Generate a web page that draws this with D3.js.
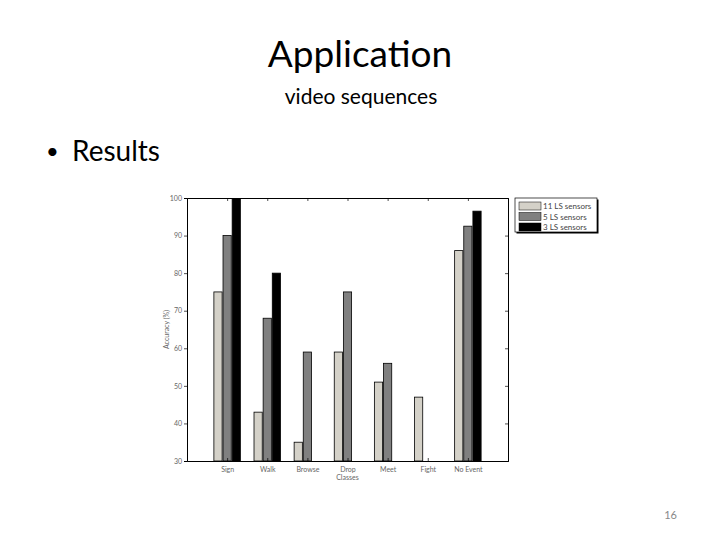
<!DOCTYPE html>
<html>
<head>
<meta charset="utf-8">
<script src="https://cdn.jsdelivr.net/npm/d3@7"></script>
<style>
  body { margin: 0; background: #fff; }
  text { font-family: Lato, "Open Sans", sans-serif; }
</style>
</head>
<body>
<svg></svg>
<script>
// chart values
const categories = ["Sign", "Walk", "Browse", "Drop", "Meet", "Fight", "No Event"];
const seriesNames = ["11 LS sensors", "5 LS sensors", "3 LS sensors"];
const s11 = [75, 43, 35, 59, 51, 47, 86];
const s5 = [90, 68, 59, 75, 56, 0, 92.5];
const s3 = [100, 80, 0, 0, 0, 0, 96.5];
const yTicks = [30, 40, 50, 60, 70, 80, 90, 100];
const colors = ["#d4d1c8", "#808080", "#000000"];

const svg = d3.select("svg").attr("width", 720).attr("height", 540);

// slide text
svg.append("text").attr("x", 360).attr("y", 67).attr("text-anchor", "middle")
  .attr("font-size", 37).attr("fill", "#000").text("Application");
svg.append("text").attr("x", 361).attr("y", 104).attr("text-anchor", "middle")
  .attr("font-size", 21).attr("fill", "#000").text("video sequences");
svg.append("text").attr("x", 46).attr("y", 159)
  .attr("font-size", 22).attr("fill", "#000").text("\u2022");
svg.append("text").attr("x", 72).attr("y", 161)
  .attr("font-size", 28).attr("fill", "#000").text("Results");
svg.append("text").attr("x", 677).attr("y", 519).attr("text-anchor", "end")
  .attr("font-size", 11).attr("fill", "#888").text("16");

// plot area
const pLeft = 187, pRight = 508, pTop = 198, pBottom = 461;

const x = d3.scaleLinear().domain([0, 8]).range([pLeft, pRight]);
const y = d3.scaleLinear().domain([30, 100]).range([pBottom, pTop]);
const xSub = d3.scaleBand().domain([0, 1, 2]).range([-0.33, 0.33]).paddingInner(0.1);

svg.append("defs").append("clipPath").attr("id", "plotclip")
  .append("rect").attr("x", pLeft).attr("y", pTop)
  .attr("width", pRight - pLeft).attr("height", pBottom - pTop);

const series = [s11, s5, s3];
const bars = [];
series.forEach((vals, si) => {
  vals.forEach((v, ci) => {
    if (v > 30) bars.push({ si, ci, v });
  });
});

svg.append("g").attr("clip-path", "url(#plotclip)")
  .selectAll("rect").data(bars).enter().append("rect")
  .attr("x", d => x(d.ci + 1 + xSub(d.si)))
  .attr("width", d => x(xSub.bandwidth()) - x(0))
  .attr("y", d => y(d.v))
  .attr("height", d => y(30) - y(d.v))
  .attr("fill", d => colors[d.si])
  .attr("stroke", "#000")
  .attr("stroke-width", 0.8);

// axes
const tickFont = g => g.selectAll("text").attr("font-size", 7).attr("fill", "#666");

const yAxis = svg.append("g").attr("transform", `translate(${pLeft},0)`)
  .call(d3.axisLeft(y).tickValues(yTicks).tickSize(3).tickPadding(2));
yAxis.call(tickFont);

const yAxisR = svg.append("g").attr("transform", `translate(${pRight},0)`)
  .call(d3.axisLeft(y).tickValues(yTicks).tickSize(3).tickFormat(""));

const xAxis = svg.append("g").attr("transform", `translate(0,${pBottom})`)
  .call(d3.axisBottom(x).tickValues(d3.range(1, 8)).tickSize(-3).tickPadding(6)
    .tickFormat(i => categories[i - 1]));
xAxis.call(tickFont);

const xAxisT = svg.append("g").attr("transform", `translate(0,${pTop})`)
  .call(d3.axisTop(x).tickValues(d3.range(1, 8)).tickSize(-3).tickFormat(""));

[yAxis, yAxisR, xAxis, xAxisT].forEach(g => {
  g.select(".domain").attr("stroke", "#000").attr("stroke-width", 1);
  g.selectAll("line").attr("stroke", "#000").attr("stroke-width", 0.7);
});

svg.append("text").attr("x", x(4)).attr("y", 480).attr("text-anchor", "middle")
  .attr("font-size", 7).attr("fill", "#666").text("Classes");
svg.append("text")
  .attr("transform", `translate(169,${(pTop + pBottom) / 2}) rotate(-90)`)
  .attr("text-anchor", "middle").attr("font-size", 7).attr("fill", "#666")
  .text("Accuracy (%)");

// legend
const lg = svg.append("g").attr("transform", "translate(515,198)");
lg.append("rect").attr("x", 1.5).attr("y", 1.5).attr("width", 82).attr("height", 34)
  .attr("fill", "#000");
lg.append("rect").attr("x", 0).attr("y", 0).attr("width", 82).attr("height", 34)
  .attr("fill", "#fff").attr("stroke", "#000").attr("stroke-width", 0.7);
seriesNames.forEach((name, i) => {
  lg.append("rect").attr("x", 4).attr("y", 4 + i * 10.5).attr("width", 22).attr("height", 8)
    .attr("fill", colors[i]).attr("stroke", "#000").attr("stroke-width", 0.5);
  lg.append("text").attr("x", 28).attr("y", 11 + i * 10.5)
    .attr("font-size", 8).attr("fill", "#444").text(name);
});
</script>
</body>
</html>
